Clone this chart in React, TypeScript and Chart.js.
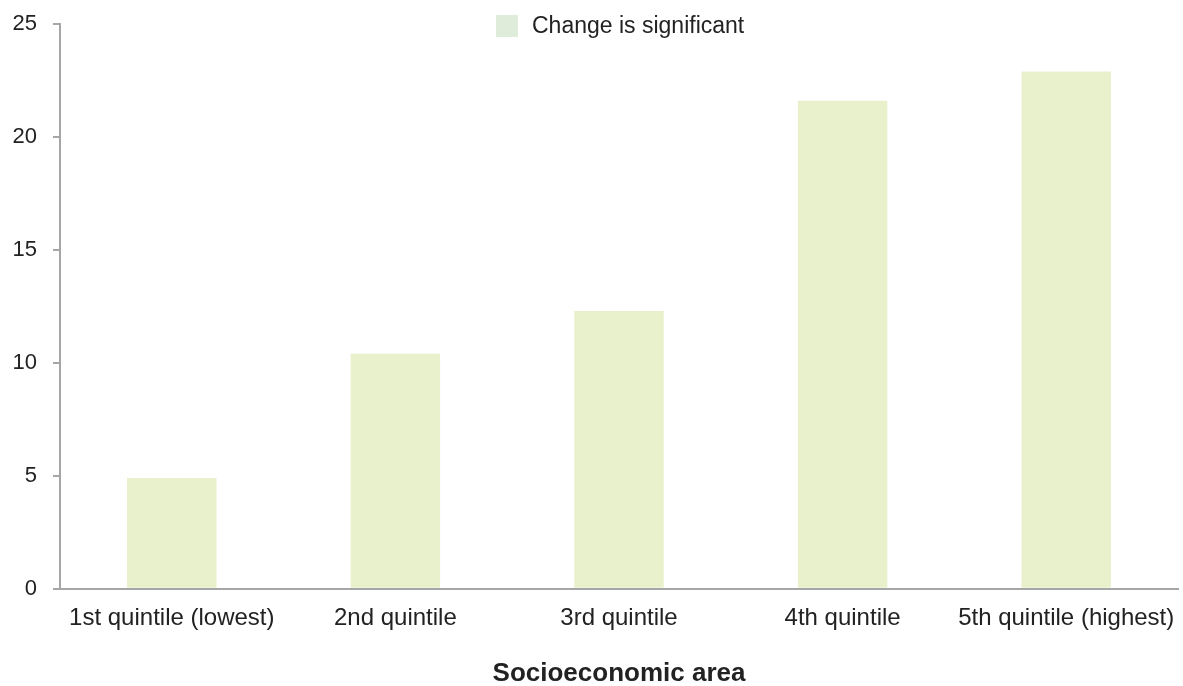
import React, { useEffect, useRef } from "react";
import { Chart, registerables } from "chart.js";

Chart.register(...registerables);

const categories = [
  "1st quintile (lowest)",
  "2nd quintile",
  "3rd quintile",
  "4th quintile",
  "5th quintile (highest)",
];
const values = [4.9, 10.4, 12.3, 21.6, 22.9];
const seriesLabel = "Change is significant";
const xTitle = "Socioeconomic area";
const yTicks = [0, 5, 10, 15, 20, 25];

const BAR_COLOR = "#e8f0cc";
const LEGEND_COLOR = "#e0ecda";
const AXIS_COLOR = "#a6a6a6";
const TEXT_COLOR = "#222";
const FONT = "'Liberation Sans', Arial, sans-serif";

const legendPlugin = {
  id: "customLegend",
  afterDraw(chart: any) {
    const ctx = chart.ctx;
    ctx.save();
    ctx.fillStyle = LEGEND_COLOR;
    ctx.fillRect(496, 15, 22, 22);
    ctx.fillStyle = TEXT_COLOR;
    ctx.font = `23px ${FONT}`;
    ctx.textBaseline = "middle";
    ctx.textAlign = "left";
    ctx.fillText(seriesLabel, 532, 27);
    ctx.restore();
  },
};

export default function App() {
  const ref = useRef<HTMLCanvasElement | null>(null);
  useEffect(() => {
    document.body.style.margin = "0";
    const chart = new Chart(ref.current!, {
      type: "bar",
      data: {
        labels: categories,
        datasets: [
          {
            label: seriesLabel,
            data: values,
            backgroundColor: BAR_COLOR,
            categoryPercentage: 1,
            barPercentage: 0.4,
          },
        ],
      },
      options: {
        animation: false,
        responsive: false,
        layout: { padding: { left: 12, right: 5, top: 24, bottom: 0 } },
        plugins: { legend: { display: false }, tooltip: { enabled: false } },
        scales: {
          x: {
            grid: { display: false },
            border: { display: true, color: AXIS_COLOR, width: 2 },
            ticks: {
              color: TEXT_COLOR,
              font: { family: FONT, size: 24 },
              padding: 7,
              maxRotation: 0,
              autoSkip: false,
            },
            title: {
              display: true,
              text: xTitle,
              color: TEXT_COLOR,
              font: { family: FONT, size: 26, weight: "bold", lineHeight: 0.9 },
              padding: { top: 23, bottom: 0 },
            },
          },
          y: {
            min: 0,
            max: 25,
            afterBuildTicks: (axis: any) => {
              axis.ticks = yTicks.map((v) => ({ value: v }));
            },
            afterFit: (axis: any) => {
              axis.width = 48;
              axis.paddingTop = 0;
              axis.paddingBottom = 0;
            },
            grid: {
              display: true,
              drawOnChartArea: false,
              drawTicks: true,
              tickLength: 7,
              color: AXIS_COLOR,
              lineWidth: 2,
            },
            border: { display: true, color: AXIS_COLOR, width: 2 },
            ticks: { color: TEXT_COLOR, font: { family: FONT, size: 22 }, padding: 16 },
          },
        },
      },
      plugins: [legendPlugin],
    });
    return () => chart.destroy();
  }, []);
  return (
    <div style={{ width: 1183, height: 686 }}>
      <canvas ref={ref} width={1183} height={686} style={{ display: "block" }} />
    </div>
  );
}
